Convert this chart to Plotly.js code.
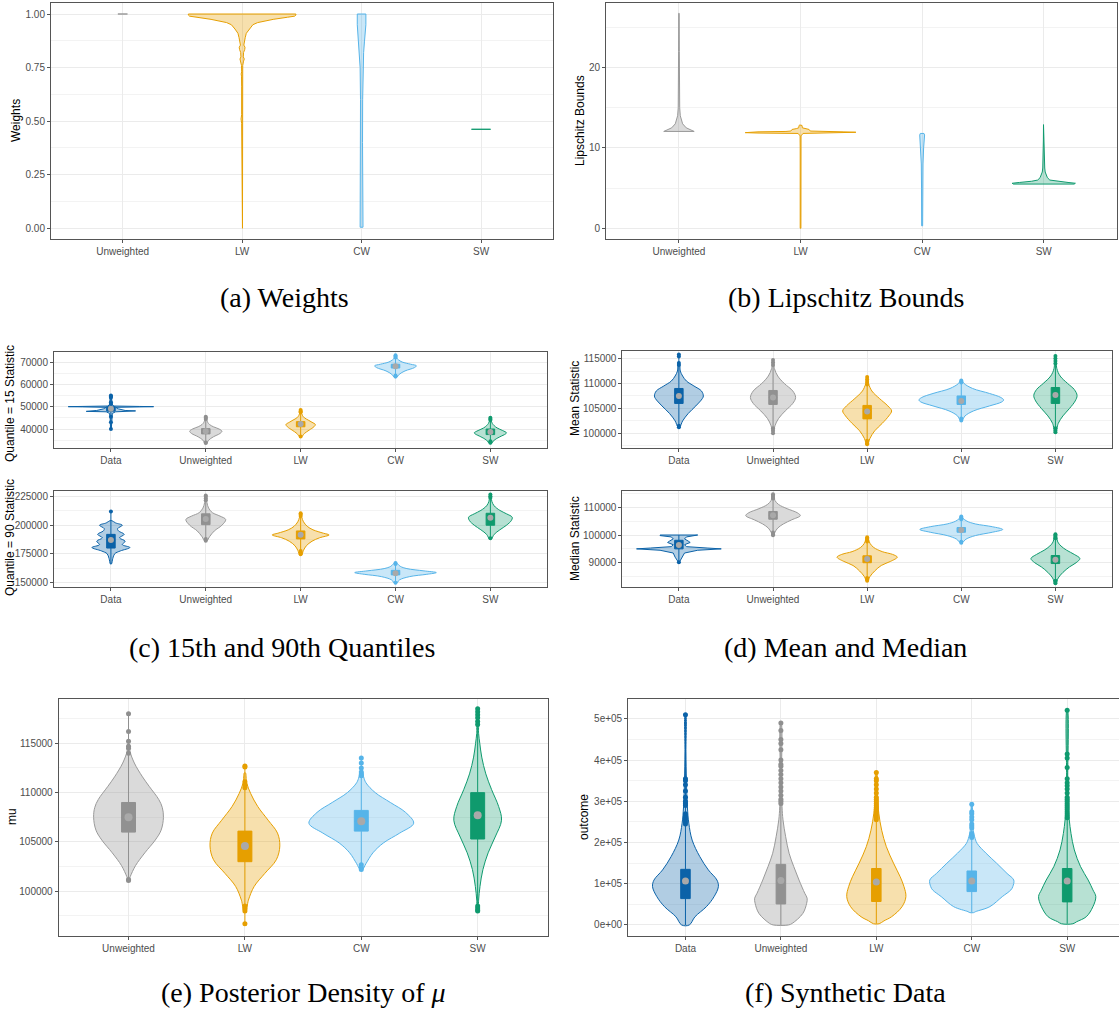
<!DOCTYPE html>
<html>
<head>
<meta charset="utf-8">
<script src="https://cdn.plot.ly/plotly-3.0.1.min.js"></script>
<style>html,body{margin:0;padding:0;background:#fff}#chart{width:1119px;height:1013px}</style>
</head>
<body>
<div id="chart"></div>
<script>
// ---------- categories & tick labels ----------
const catsWB = ["Unweighted", "LW", "CW", "SW"];
const catsStat = ["Data", "Unweighted", "LW", "CW", "SW"];
const catsMu = ["Unweighted", "LW", "CW", "SW"];
const catsSyn = ["Data", "Unweighted", "LW", "CW", "SW"];

const ticksA = [0, 0.25, 0.5, 0.75, 1.0];
const ticksB = [0, 10, 20];
const ticksC1 = [40000, 50000, 60000, 70000];
const ticksC2 = [150000, 175000, 200000, 225000];
const ticksD1 = [100000, 105000, 110000, 115000];
const ticksD2 = [90000, 100000, 110000];
const ticksE = [100000, 105000, 110000, 115000];
const ticksF = [0, 100000, 200000, 300000, 400000, 500000];
const tickTextF = ["0e+00", "1e+05", "2e+05", "3e+05", "4e+05", "5e+05"];

// ---------- (a) Weights: violin profiles (value, half width) ----------
const a_Unw_y = [1.0];                 const a_Unw_w = [0.04];
const a_LW_y = [0, 0.3, 0.49, 0.51, 0.53, 0.66, 0.68, 0.70, 0.71, 0.72, 0.73, 0.76, 0.78, 0.79, 0.80, 0.82, 0.835, 0.845, 0.855, 0.87, 0.89, 0.91, 0.93, 0.95, 0.96, 0.975, 0.985, 0.99, 0.995, 1.0];
const a_LW_w = [0.003, 0.003, 0.004, 0.009, 0.004, 0.004, 0.007, 0.004, 0.005, 0.008, 0.004, 0.005, 0.012, 0.018, 0.01, 0.012, 0.022, 0.024, 0.014, 0.018, 0.026, 0.035, 0.06, 0.09, 0.13, 0.26, 0.38, 0.44, 0.45, 0.45];
const a_CW_y = [0.005, 0.05, 0.2, 0.4, 0.6, 0.75, 0.82, 0.87, 0.91, 0.95, 1.0];
const a_CW_w = [0.012, 0.011, 0.009, 0.008, 0.009, 0.012, 0.017, 0.024, 0.032, 0.036, 0.036];
const a_SW_y = [0.462];                const a_SW_w = [0.08];

// ---------- (b) Lipschitz bounds ----------
const b_Unw_y = [12.05, 12.2, 12.5, 13, 13.5, 14, 15, 17, 19, 19.4, 20, 22, 26.75];
const b_Unw_w = [0.125, 0.1, 0.06, 0.03, 0.018, 0.011, 0.006, 0.004, 0.004, 0.006, 0.003, 0.003, 0.002];
const b_LW_y = [0, 5, 10, 10.4, 10.8, 11.5, 11.8, 11.85, 11.9, 11.95, 12.0, 12.05, 12.1, 12.3, 12.4, 12.5, 12.8, 12.85];
const b_LW_w = [0.003, 0.003, 0.003, 0.007, 0.003, 0.004, 0.02, 0.35, 0.455, 0.455, 0.35, 0.12, 0.08, 0.07, 0.035, 0.015, 0.012, 0.006];
const b_CW_y = [0.3, 2, 5, 8, 10, 11, 11.6, 11.8];
const b_CW_w = [0.004, 0.004, 0.005, 0.007, 0.012, 0.018, 0.02, 0.015];
const b_SW_y = [5.5, 5.6, 5.7, 5.85, 6.0, 6.3, 6.6, 7.0, 7.5, 9.0, 9.2, 9.5, 11, 12.9];
const b_SW_w = [0.25, 0.26, 0.2, 0.1, 0.05, 0.03, 0.02, 0.012, 0.008, 0.005, 0.01, 0.004, 0.003, 0.002];

// ---------- (c) top: Quantile = 15 statistic ----------
const c1_Data_y = [40000, 42000, 45000, 47000, 47700, 47900, 48100, 48300, 49000, 49700, 49900, 50000, 50100, 50300, 51000, 53000, 55000];
const c1_Data_w = [0.004, 0.005, 0.008, 0.015, 0.05, 0.26, 0.26, 0.15, 0.08, 0.05, 0.3, 0.45, 0.3, 0.03, 0.015, 0.008, 0.004];
const c1_Unw_y = [33700, 35000, 36500, 38000, 39000, 40000, 41000, 42000, 43000, 44000, 45500];
const c1_Unw_w = [0.01, 0.03, 0.08, 0.15, 0.17, 0.14, 0.08, 0.04, 0.02, 0.012, 0.005];
const c1_LW_y = [36500, 38000, 39500, 41000, 42000, 43000, 44000, 45000, 46000, 47000, 48500];
const c1_LW_w = [0.01, 0.04, 0.09, 0.14, 0.155, 0.12, 0.08, 0.04, 0.02, 0.01, 0.005];
const c1_CW_y = [63000, 64500, 66000, 67500, 68300, 69000, 70000, 71000, 72000, 73000];
const c1_CW_w = [0.01, 0.04, 0.1, 0.2, 0.22, 0.16, 0.07, 0.03, 0.01, 0.005];
const c1_SW_y = [33500, 35000, 36500, 37800, 38300, 39300, 40500, 41500, 42500, 43500, 45000];
const c1_SW_w = [0.01, 0.04, 0.1, 0.16, 0.17, 0.13, 0.07, 0.04, 0.02, 0.01, 0.005];
const c1_q1 = [48000, 37800, 41000, 67300, 37500];
const c1_q3 = [50000, 40200, 43300, 69000, 40000];
const c1_mean = [49100, 39000, 42200, 68100, 38700];
const c1_lo = [40000, 33700, 36500, 63000, 33500];
const c1_hi = [55000, 45500, 48500, 73000, 45000];
const c1_out = [[55000, 54500, 54000, 52000, 51000, 45500, 43000, 40000], [45500, 45000, 44500, 34000, 33700], [48500, 48000, 47500, 36700], [73000, 72500, 72000, 64000, 63500], [45000, 44500, 44000, 34500, 33800]];

// ---------- (c) bottom: Quantile = 90 statistic ----------
const c2_Data_y = [166000, 171000, 175000, 177500, 180500, 183000, 186000, 189000, 192000, 195000, 197000, 200000, 202000, 204000];
const c2_Data_w = [0.005, 0.02, 0.04, 0.1, 0.2, 0.12, 0.15, 0.09, 0.14, 0.08, 0.07, 0.12, 0.05, 0.01];
const c2_Unw_y = [186000, 190000, 195000, 200000, 205000, 208000, 211000, 215000, 220000, 226000];
const c2_Unw_w = [0.01, 0.04, 0.09, 0.17, 0.21, 0.15, 0.07, 0.03, 0.012, 0.005];
const c2_LW_y = [174000, 178000, 182000, 186000, 189000, 191500, 193000, 196000, 199000, 203000, 207000, 210000];
const c2_LW_w = [0.01, 0.03, 0.06, 0.12, 0.2, 0.3, 0.24, 0.13, 0.07, 0.03, 0.012, 0.005];
const c2_CW_y = [149000, 152000, 155000, 157000, 158500, 160000, 162000, 164000, 167000];
const c2_CW_w = [0.01, 0.04, 0.15, 0.33, 0.43, 0.3, 0.12, 0.05, 0.01];
const c2_SW_y = [188000, 192000, 196000, 200000, 204000, 207000, 210000, 213000, 217000, 221000, 227000];
const c2_SW_w = [0.01, 0.04, 0.1, 0.17, 0.22, 0.23, 0.17, 0.1, 0.04, 0.015, 0.005];
const c2_q1 = [180000, 200500, 188000, 156500, 200000];
const c2_q3 = [192000, 210000, 195000, 160500, 210500];
const c2_mean = [187000, 205500, 191700, 158000, 206500];
const c2_lo = [166000, 186000, 174000, 149000, 188000];
const c2_hi = [212000, 226000, 210500, 167000, 227000];
const c2_out = [[212000], [226000, 225000, 223500, 222000, 186500, 188000], [210500, 209500, 208000, 174500, 176000, 177500], [167000, 166000, 149500], [227000, 225500, 224000, 188500]];

// ---------- (d) top: Mean statistic ----------
const d1_Data_y = [101300, 102500, 104000, 105500, 107000, 107500, 108500, 109500, 110500, 111500, 112500, 114000];
const d1_Data_w = [0.01, 0.04, 0.1, 0.18, 0.25, 0.26, 0.24, 0.16, 0.08, 0.04, 0.015, 0.006];
const d1_Unw_y = [100000, 101500, 103000, 104500, 106000, 107200, 108500, 110000, 111500, 113000, 114700];
const d1_Unw_w = [0.005, 0.02, 0.06, 0.13, 0.21, 0.24, 0.21, 0.12, 0.05, 0.015, 0.005];
const d1_LW_y = [97700, 99000, 100500, 102000, 103500, 104500, 105500, 107000, 108500, 110000, 111400];
const d1_LW_w = [0.005, 0.03, 0.08, 0.16, 0.23, 0.26, 0.22, 0.13, 0.05, 0.015, 0.005];
const d1_CW_y = [102600, 103500, 104500, 105500, 106300, 106700, 107200, 108000, 109000, 110000, 110600];
const d1_CW_w = [0.01, 0.04, 0.13, 0.3, 0.43, 0.45, 0.42, 0.3, 0.12, 0.03, 0.01];
const d1_SW_y = [100200, 102000, 103500, 105000, 106500, 107600, 108800, 110000, 111500, 113000, 115500];
const d1_SW_w = [0.005, 0.03, 0.08, 0.15, 0.21, 0.23, 0.2, 0.13, 0.05, 0.015, 0.004];
const d1_q1 = [106000, 105800, 102900, 105800, 106000];
const d1_q3 = [109000, 108600, 105600, 107500, 109200];
const d1_mean = [107500, 107200, 104400, 106500, 107700];
const d1_lo = [101300, 100000, 97700, 102600, 100200];
const d1_hi = [115800, 114700, 111400, 110600, 115500];
const d1_out = [[115800, 115400, 114100, 113700, 101500, 101200], [114700, 114200, 113700, 101000, 100500, 100000], [111300, 110800, 110300, 109800, 98500, 98000, 97800], [110600, 110200, 103000, 102600], [115500, 115000, 114500, 114000, 101000, 100500, 100200]];

// ---------- (d) bottom: Median statistic ----------
const d2_Data_y = [90200, 91000, 92000, 93500, 94500, 95000, 95300, 95800, 96500, 97300, 97800, 98600, 99300, 99800, 100000];
const d2_Data_w = [0.005, 0.02, 0.04, 0.06, 0.2, 0.45, 0.3, 0.08, 0.06, 0.12, 0.1, 0.06, 0.08, 0.2, 0.2];
const d2_Unw_y = [99800, 101000, 102500, 104000, 105500, 107000, 108000, 109500, 111000, 112500, 114800];
const d2_Unw_w = [0.005, 0.02, 0.05, 0.11, 0.2, 0.29, 0.26, 0.15, 0.06, 0.02, 0.005];
const d2_LW_y = [83300, 85000, 87000, 89000, 90500, 92000, 93000, 94000, 95500, 97000, 99200];
const d2_LW_w = [0.005, 0.03, 0.08, 0.15, 0.25, 0.32, 0.27, 0.16, 0.07, 0.03, 0.005];
const d2_CW_y = [97200, 98500, 99800, 101000, 102000, 103000, 104000, 105000, 106000, 106800];
const d2_CW_w = [0.01, 0.05, 0.15, 0.33, 0.44, 0.33, 0.15, 0.06, 0.02, 0.005];
const d2_SW_y = [82500, 84500, 86500, 88500, 90000, 91500, 93000, 94500, 96000, 97500, 100300];
const d2_SW_w = [0.005, 0.03, 0.08, 0.15, 0.22, 0.26, 0.2, 0.12, 0.06, 0.025, 0.005];
const d2_q1 = [95000, 105700, 90000, 101000, 89700];
const d2_q3 = [98100, 108500, 92500, 102700, 92600];
const d2_mean = [96400, 107100, 91300, 101800, 91100];
const d2_lo = [90200, 99800, 83300, 97200, 82500];
const d2_hi = [100000, 114800, 99200, 106800, 100300];
const d2_out = [[90200], [114700, 114200, 113700, 113200, 100900, 100300, 99900], [99200, 98700, 98200, 97700, 84500, 84000, 83500], [106700, 106200, 105700, 97600, 97200], [100300, 99800, 99300, 98800, 83500, 83000, 82600]];

// ---------- (e) Posterior density of mu ----------
const e_Unw_y = [101200, 101500, 102600, 103900, 105200, 106200, 107500, 108500, 109300, 110600, 111600, 113000, 114200, 115000];
const e_Unw_w = [0.005, 0.015, 0.06, 0.14, 0.23, 0.28, 0.3, 0.29, 0.26, 0.18, 0.12, 0.05, 0.012, 0.005];
const e_LW_y = [98000, 99100, 100500, 101800, 103200, 104600, 105900, 107200, 108600, 109900, 111000, 112000];
const e_LW_w = [0.008, 0.03, 0.08, 0.17, 0.27, 0.3, 0.28, 0.2, 0.11, 0.05, 0.015, 0.005];
const e_CW_y = [102200, 102800, 103900, 104900, 105900, 106900, 108000, 109000, 110000, 111000, 111600, 112200];
const e_CW_w = [0.01, 0.04, 0.1, 0.19, 0.33, 0.45, 0.38, 0.25, 0.12, 0.04, 0.02, 0.008];
const e_SW_y = [98000, 99100, 100500, 102200, 103900, 105500, 107200, 108600, 110300, 111900, 113600, 115000, 116000, 117000];
const e_SW_w = [0.003, 0.008, 0.02, 0.045, 0.09, 0.15, 0.205, 0.18, 0.12, 0.07, 0.035, 0.018, 0.008, 0.004];
const e_q1 = [106000, 103000, 106100, 105300];
const e_q3 = [109000, 106100, 108200, 110000];
const e_mean = [107500, 104600, 107100, 107700];
const e_lo = [101100, 96700, 102200, 98000];
const e_hi = [118000, 112700, 113500, 118500];
const e_out = [[118000, 116200, 115200, 114700, 114500, 114000, 101200, 101100], [112700, 112600, 111100, 110800, 110500, 98500, 98200, 98000, 96700], [113500, 113000, 112500, 112100, 111900, 111700, 102700, 102400, 102200], [118500, 118200, 117900, 117600, 117200, 116900, 98500, 98300, 98100, 98000]];

// ---------- (f) Synthetic data ----------
const f_Data_y = [0, 20000, 44500, 68800, 93000, 109000, 133500, 166000, 206000, 247000, 287000, 352000, 420000, 510000];
const f_Data_w = [0.04, 0.1, 0.22, 0.3, 0.345, 0.33, 0.24, 0.15, 0.07, 0.035, 0.02, 0.01, 0.005, 0.003];
const f_Unw_y = [0, 4000, 28000, 52600, 65000, 76900, 109000, 141600, 174000, 214000, 255000, 287000, 350000, 490000];
const f_Unw_w = [0.08, 0.12, 0.23, 0.27, 0.275, 0.25, 0.19, 0.135, 0.086, 0.05, 0.022, 0.012, 0.006, 0.003];
const f_LW_y = [3000, 10000, 20000, 44500, 68800, 93000, 117000, 150000, 190000, 230000, 271000, 311000, 370000];
const f_LW_w = [0.03, 0.08, 0.16, 0.27, 0.31, 0.29, 0.25, 0.18, 0.105, 0.056, 0.026, 0.012, 0.004];
const f_CW_y = [30000, 32400, 44500, 68800, 85000, 93000, 109000, 125000, 150000, 174000, 198000, 214000, 230000, 260000, 293000];
const f_CW_w = [0.02, 0.04, 0.19, 0.32, 0.41, 0.43, 0.44, 0.37, 0.26, 0.15, 0.056, 0.03, 0.015, 0.006, 0.003];
const f_SW_y = [3000, 8000, 20000, 44500, 68800, 85000, 109000, 141600, 182000, 222000, 255000, 287000, 350000, 521000];
const f_SW_w = [0.06, 0.1, 0.2, 0.27, 0.3, 0.27, 0.22, 0.14, 0.075, 0.04, 0.022, 0.012, 0.006, 0.003];
const f_q1 = [64000, 51000, 57000, 81000, 56000];
const f_q3 = [135000, 147000, 137000, 131000, 137000];
const f_mean = [107000, 108000, 104000, 107000, 107000];
const f_lo = [0, 0, 3000, 30000, 3000];
const f_hi = [510000, 490000, 370000, 293000, 521000];
const f_out = [[510000, 355000, 350000, 340000, 325000, 310000, 300000, 295000, 290000, 270000, 265000, 260000, 255000, 250000, 245000],
  [490000, 472000, 450000, 440000, 425000, 400000, 390000, 385000, 375000, 365000, 355000, 345000, 335000, 325000, 315000, 305000, 300000, 295000],
  [370000, 355000, 350000, 340000, 330000, 320000, 310000, 305000, 300000, 295000, 290000, 285000, 280000, 275000, 270000, 265000, 260000, 255000],
  [293000, 275000, 270000, 262000, 255000, 245000, 240000, 235000, 222000, 218000, 215000, 212000],
  [521000, 415000, 405000, 382000, 355000, 345000, 338000, 330000, 320000, 310000, 305000, 300000, 295000, 290000, 285000, 280000, 275000, 270000, 265000, 260000]];

// ---------- styling ----------
const COL = {Data: "#0B62A8", Unweighted: "#8F8F8F", LW: "#E69F00", CW: "#56B4E9", SW: "#0F9A6E"};
const LINECOL = {Data: "#0B62A8", Unweighted: "#9A9A9A", LW: "#E69F00", CW: "#56B4E9", SW: "#0F9A6E"};
const FILL = {Data: "rgba(11,98,168,0.32)", Unweighted: "rgba(150,150,150,0.35)", LW: "rgba(230,159,0,0.32)", CW: "rgba(86,180,233,0.32)", SW: "rgba(15,154,110,0.3)"};
const MEANCOL = "#A9A9A9";

const W = 1119, H = 1013;
const traces = [];

function violin(xc, ys, ws, cat, ax, smooth) {
  const x = [], y = [];
  for (let i = 0; i < ys.length; i++) { x.push(xc + ws[i]); y.push(ys[i]); }
  for (let i = ys.length - 1; i >= 0; i--) { x.push(xc - ws[i]); y.push(ys[i]); }
  x.push(x[0]); y.push(y[0]);
  const line = {color: LINECOL[cat], width: 1};
  if (smooth) { line.shape = "spline"; line.smoothing = 1; }
  traces.push({type: "scatter", mode: "lines", x: x, y: y, fill: "toself", fillcolor: FILL[cat],
    line: line, xaxis: "x" + ax, yaxis: "y" + ax, hoverinfo: "skip", showlegend: false});
}
function boxes(cats, q1, q3, mean, lo, hi, outs, bw, ax, ms, mms) {
  cats.forEach((c, i) => {
    const xc = i + 1;
    traces.push({type: "box", x: [xc], q1: [q1[i]], median: [mean[i]], q3: [q3[i]], lowerfence: [lo[i]], upperfence: [hi[i]],
      width: bw, fillcolor: COL[c], line: {color: COL[c], width: 1}, whiskerwidth: 0, boxpoints: false,
      xaxis: "x" + ax, yaxis: "y" + ax, hoverinfo: "skip", showlegend: false});
    traces.push({type: "scatter", mode: "markers", x: outs[i].map(() => xc), y: outs[i],
      marker: {color: COL[c], size: ms}, xaxis: "x" + ax, yaxis: "y" + ax, hoverinfo: "skip", showlegend: false});
    traces.push({type: "scatter", mode: "markers", x: [xc], y: [mean[i]],
      marker: {color: MEANCOL, size: mms}, xaxis: "x" + ax, yaxis: "y" + ax, hoverinfo: "skip", showlegend: false});
  });
}

// (a)
violin(1, a_Unw_y, a_Unw_w, "Unweighted", 1, false);
violin(2, a_LW_y, a_LW_w, "LW", 1, false);
violin(3, a_CW_y, a_CW_w, "CW", 1, false);
violin(4, a_SW_y, a_SW_w, "SW", 1, false);
// (b)
violin(1, b_Unw_y, b_Unw_w, "Unweighted", 2, false);
violin(2, b_LW_y, b_LW_w, "LW", 2, false);
violin(3, b_CW_y, b_CW_w, "CW", 2, false);
violin(4, b_SW_y, b_SW_w, "SW", 2, false);
// (c) top
[[c1_Data_y, c1_Data_w], [c1_Unw_y, c1_Unw_w], [c1_LW_y, c1_LW_w], [c1_CW_y, c1_CW_w], [c1_SW_y, c1_SW_w]].forEach((p, i) => violin(i + 1, p[0], p[1], catsStat[i], 3, i > 0));
boxes(catsStat, c1_q1, c1_q3, c1_mean, c1_lo, c1_hi, c1_out, 0.09, 3, 4, 6);
// (c) bottom
[[c2_Data_y, c2_Data_w], [c2_Unw_y, c2_Unw_w], [c2_LW_y, c2_LW_w], [c2_CW_y, c2_CW_w], [c2_SW_y, c2_SW_w]].forEach((p, i) => violin(i + 1, p[0], p[1], catsStat[i], 4, true));
boxes(catsStat, c2_q1, c2_q3, c2_mean, c2_lo, c2_hi, c2_out, 0.09, 4, 4, 6);
// (d) top
[[d1_Data_y, d1_Data_w], [d1_Unw_y, d1_Unw_w], [d1_LW_y, d1_LW_w], [d1_CW_y, d1_CW_w], [d1_SW_y, d1_SW_w]].forEach((p, i) => violin(i + 1, p[0], p[1], catsStat[i], 5, true));
boxes(catsStat, d1_q1, d1_q3, d1_mean, d1_lo, d1_hi, d1_out, 0.09, 5, 4, 6);
// (d) bottom
[[d2_Data_y, d2_Data_w], [d2_Unw_y, d2_Unw_w], [d2_LW_y, d2_LW_w], [d2_CW_y, d2_CW_w], [d2_SW_y, d2_SW_w]].forEach((p, i) => violin(i + 1, p[0], p[1], catsStat[i], 6, i > 0));
boxes(catsStat, d2_q1, d2_q3, d2_mean, d2_lo, d2_hi, d2_out, 0.09, 6, 4, 6);
// (e)
[[e_Unw_y, e_Unw_w], [e_LW_y, e_LW_w], [e_CW_y, e_CW_w], [e_SW_y, e_SW_w]].forEach((p, i) => violin(i + 1, p[0], p[1], catsMu[i], 7, true));
boxes(catsMu, e_q1, e_q3, e_mean, e_lo, e_hi, e_out, 0.12, 7, 5, 8);
// (f)
[[f_Data_y, f_Data_w], [f_Unw_y, f_Unw_w], [f_LW_y, f_LW_w], [f_CW_y, f_CW_w], [f_SW_y, f_SW_w]].forEach((p, i) => violin(i + 1, p[0], p[1], catsSyn[i], 8, true));
boxes(catsSyn, f_q1, f_q3, f_mean, f_lo, f_hi, f_out, 0.1, 8, 5, 7);

// ---------- axes ----------
const px = v => v / W;
const py = v => 1 - v / H;
const tickFont = {family: "Liberation Sans, Arial, sans-serif", size: 10, color: "#4D4D4D"};
function xax(l, r, range, cats, anchor, mirror) {
  return {domain: [px(l), px(r)], range: range, anchor: anchor, tickmode: "array",
    tickvals: cats.map((c, i) => i + 1), ticktext: cats, showgrid: true, gridcolor: "#EBEBEB", gridwidth: 1,
    zeroline: false, showline: true, linecolor: "#555555", linewidth: 1, mirror: mirror,
    ticks: "outside", ticklen: 3, tickcolor: "#555555", tickfont: tickFont, fixedrange: true};
}
function yax(t, b, range, tv, anchor, mirror, extra) {
  const o = {domain: [py(b), py(t)], range: range, anchor: anchor, tickmode: "array", tickvals: tv,
    showgrid: true, gridcolor: "#EBEBEB", gridwidth: 1, zeroline: false, showline: true, linecolor: "#555555",
    linewidth: 1, mirror: mirror, ticks: "outside", ticklen: 3, tickcolor: "#555555", tickfont: tickFont,
    tickformat: "d", fixedrange: true,
    minor: {tick0: tv[0], dtick: (tv[1] - tv[0]) / 2, showgrid: true, gridcolor: "#F3F3F3", gridwidth: 1}};
  return Object.assign(o, extra || {});
}

const layout = {
  width: W, height: H, margin: {l: 0, r: 0, t: 0, b: 0}, paper_bgcolor: "#fff", plot_bgcolor: "#fff",
  showlegend: false, boxmode: "overlay",
  xaxis: xax(51, 552.7, [0.4, 4.6], catsWB, "y", true),
  yaxis: yax(3.3, 239, [-0.05, 1.05], ticksA, "x", true, {tickformat: ".2f"}),
  xaxis2: xax(606, 1116.7, [0.4, 4.6], catsWB, "y2", true),
  yaxis2: yax(3.3, 238.7, [-1.3, 28.0], ticksB, "x2", true),
  xaxis3: xax(54, 547.3, [0.4, 5.6], catsStat, "y3", true),
  yaxis3: yax(351.7, 447.7, [31630, 74610], ticksC1, "x3", true),
  xaxis4: xax(54, 547.3, [0.4, 5.6], catsStat, "y4", true),
  yaxis4: yax(490.7, 586.7, [146140, 230260], ticksC2, "x4", true),
  xaxis5: xax(622.4, 1111.9, [0.4, 5.6], catsStat, "y5", true),
  yaxis5: yax(351.3, 447.7, [97120, 116460], ticksD1, "x5", true),
  xaxis6: xax(622.4, 1111.9, [0.4, 5.6], catsStat, "y6", true),
  yaxis6: yax(490.7, 587, [81230, 116000], ticksD2, "x6", true),
  xaxis7: xax(58.7, 547.5, [0.4, 4.6], catsMu, "y7", true),
  yaxis7: yax(699.3, 935.7, [95500, 119460], ticksE, "x7", true),
  xaxis8: xax(628.2, 1119, [0.4, 5.543], catsSyn, "y8", true),
  yaxis8: yax(699.3, 935.7, [-26000, 547500], ticksF, "x8", false, {ticktext: tickTextF}),
  annotations: []
};

const titleFont = {family: "Liberation Sans, Arial, sans-serif", size: 12, color: "#000"};
function ytitle(text, x, yc) {
  layout.annotations.push({text: text, x: px(x), y: py(yc), xref: "paper", yref: "paper", textangle: -90,
    showarrow: false, xanchor: "center", yanchor: "middle", font: titleFont});
}
ytitle("Weights", 16, 121);
ytitle("Lipschitz Bounds", 580, 121);
ytitle("Quantile = 15 Statistic", 10, 404);
ytitle("Quantile = 90 Statistic", 10, 538);
ytitle("Mean Statistic", 575, 399);
ytitle("Median Statistic", 575, 539);
ytitle("mu", 12, 817);
ytitle("outcome", 584, 817);

const capFont = {family: "Liberation Serif, Times New Roman, serif", size: 28, color: "#000"};
function caption(text, x, y) {
  layout.annotations.push({text: text, x: px(x), y: py(y), xref: "paper", yref: "paper", showarrow: false,
    xanchor: "center", yanchor: "middle", font: capFont});
}
caption("(a) Weights", 284, 298);
caption("(b) Lipschitz Bounds", 846, 298);
caption("(c) 15th and 90th Quantiles", 282, 647);
caption("(d) Mean and Median", 846, 647);
caption("(e) Posterior Density of <i>μ</i>", 303, 992);
caption("(f) Synthetic Data", 845, 992);

Plotly.newPlot("chart", traces, layout, {staticPlot: true, displayModeBar: false});
</script>
</body>
</html>
